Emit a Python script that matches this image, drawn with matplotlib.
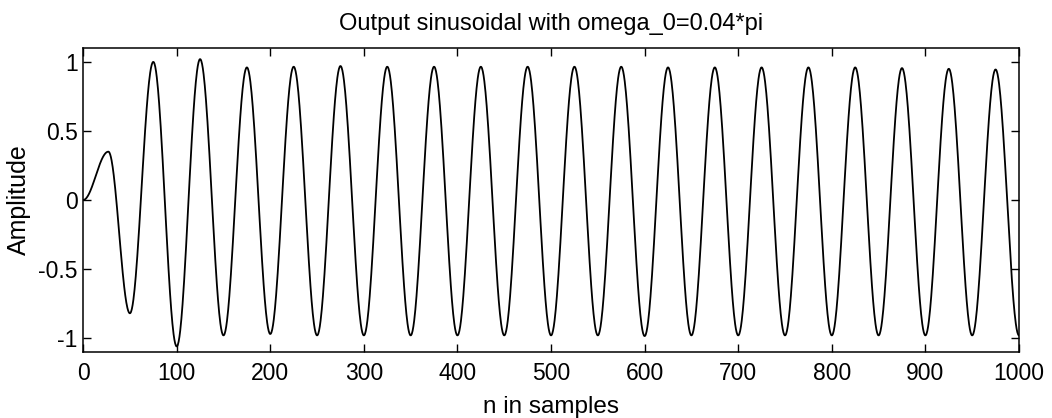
import numpy as np
import matplotlib
matplotlib.use("Agg")
import matplotlib.pyplot as plt

plt.rcParams['font.family'] = ['Liberation Sans', 'DejaVu Sans']

# Extrema of the output signal (sample index, amplitude)
extrema_n = [0, 27, 50, 75, 100, 125, 150, 175, 200, 225, 250, 275, 300, 325, 350,
             375, 400, 425, 450, 475, 500, 525, 550, 575, 600, 625, 650, 675, 700,
             725, 750, 775, 800, 825, 850, 875, 900, 925, 950, 975, 1000]
extrema_y = [0.0, 0.35, -0.82, 1.0, -1.06, 1.02, -0.98, 0.96, -0.97, 0.965, -0.98, 0.97,
             -0.98, 0.965, -0.98, 0.965, -0.98, 0.965, -0.98, 0.965, -0.98, 0.965, -0.98,
             0.965, -0.985, 0.96, -0.98, 0.96, -0.98, 0.96, -0.98, 0.96, -0.98, 0.96,
             -0.98, 0.955, -0.98, 0.95, -0.98, 0.945, -0.98]

title = "Output sinusoidal with omega_0=0.04*pi"
xlabel = "n in samples"
ylabel = "Amplitude"
xticks = [0, 100, 200, 300, 400, 500, 600, 700, 800, 900, 1000]
yticks = [-1, -0.5, 0, 0.5, 1]
yticklabels = ["-1", "-0.5", "0", "0.5", "1"]

# smooth half-cosine segments between consecutive extrema
xs, ys = [], []
for i in range(len(extrema_n) - 1):
    x0, x1 = extrema_n[i], extrema_n[i + 1]
    y0, y1 = extrema_y[i], extrema_y[i + 1]
    t = np.linspace(0, 1, 60, endpoint=(i == len(extrema_n) - 2))
    xs.append(x0 + (x1 - x0) * t)
    ys.append(y0 + (y1 - y0) * (1 - np.cos(np.pi * t)) / 2)
xs = np.concatenate(xs)
ys = np.concatenate(ys)

fig = plt.figure(figsize=(10.52, 4.18), dpi=100)
ax = fig.add_axes([0.079, 0.158, 0.8896, 0.727])
ax.plot(xs, ys, color='black', linewidth=1.3)
ax.set_xlim(0, 1000)
ax.set_ylim(-1.1, 1.1)
ax.set_xticks(xticks)
ax.set_yticks(yticks)
ax.set_yticklabels(yticklabels)
ax.tick_params(direction='in', top=True, right=True, length=6, width=1,
               labelsize=16.5, colors='black')
ax.tick_params(axis='x', pad=7)
ax.tick_params(axis='y', pad=4)
for s in ax.spines.values():
    s.set_linewidth(1.1)
ax.set_title(title, fontsize=17, pad=13)
ax.set_xlabel(xlabel, fontsize=17.5, labelpad=8)
ax.set_ylabel(ylabel, fontsize=18, labelpad=5)

fig.savefig("out.png", dpi=100)
